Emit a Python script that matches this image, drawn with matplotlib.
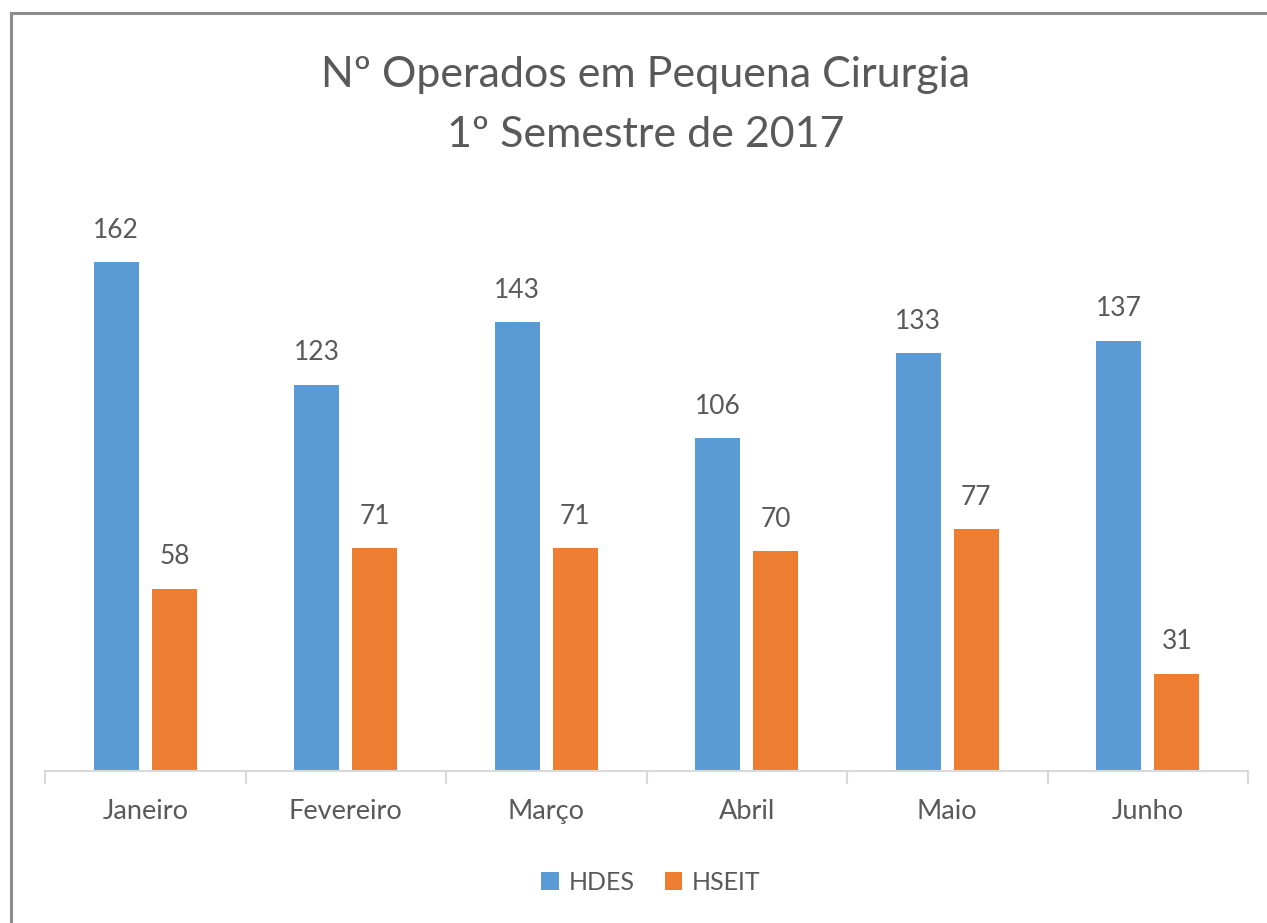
import numpy as np
import matplotlib.pyplot as plt

plt.rcParams['font.family'] = ['Lato', 'DejaVu Sans']

meses = ['Janeiro', 'Fevereiro', 'Março', 'Abril', 'Maio', 'Junho']
hdes = [162, 123, 143, 106, 133, 137]
hseit = [58, 71, 71, 70, 77, 31]
series = ['HDES', 'HSEIT']
cores = ['#5b9bd5', '#ed7d31']
texto = '#595959'

W, H = 1267, 923
fig = plt.figure(figsize=(W / 100, H / 100), dpi=100)

# moldura cinzenta (cortada a direita e em baixo)
fig.add_artist(plt.Line2D([11 / W, 11 / W], [0, 1 - 13 / H], color='#8c8c8c', lw=2.2, transform=fig.transFigure))
fig.add_artist(plt.Line2D([11 / W, 1], [1 - 13 / H, 1 - 13 / H], color='#8c8c8c', lw=2.2, transform=fig.transFigure))

ymax = 180
top_px = 771 - ymax * 3.14
ax = fig.add_axes([45 / W, 1 - 771 / H, (1248 - 45) / W, (771 - top_px) / H])

x = np.arange(len(meses))
bw = 0.225
gap = 0.065
off = (bw + gap) / 2
b1 = ax.bar(x - off, hdes, bw, color=cores[0], label=series[0])
b2 = ax.bar(x + off, hseit, bw, color=cores[1], label=series[1])

for bars, vals in ((b1, hdes), (b2, hseit)):
    for r, v in zip(bars, vals):
        ax.annotate(str(v), (r.get_x() + r.get_width() / 2, v), xytext=(0, 14),
                    textcoords='offset points', ha='center', va='bottom',
                    fontsize=19, color=texto)

ax.set_xlim(-0.5, len(meses) - 0.5)
ax.set_ylim(0, ymax)
for s in ['top', 'right', 'left']:
    ax.spines[s].set_visible(False)
ax.spines['bottom'].set_color('#d9d9d9')
ax.spines['bottom'].set_linewidth(1.5)
ax.set_yticks([])
ax.set_xticks(x)
ax.set_xticklabels(meses, fontsize=19.5, color=texto)
ax.tick_params(axis='x', length=0, pad=20)
ax.set_xticks(np.arange(-0.5, len(meses)), minor=True)
ax.tick_params(axis='x', which='minor', length=9, width=1.5, color='#d9d9d9')

cx = 646 / W
fig.text(cx, 1 - 75 / H, 'Nº Operados em Pequena Cirurgia', ha='center', va='center',
         fontsize=31, color=texto)
fig.text(cx, 1 - 135 / H, '1º Semestre de 2017', ha='center', va='center',
         fontsize=31, color=texto)

leg = fig.legend(handles=[b1, b2], labels=series, loc='center', bbox_to_anchor=(651 / W, 1 - 882 / H),
                 ncol=2, frameon=False, fontsize=18, handlelength=0.7, handleheight=0.7,
                 handletextpad=0.4, columnspacing=1.2)
for t in leg.get_texts():
    t.set_color(texto)

fig.savefig('out.png', dpi=100)
